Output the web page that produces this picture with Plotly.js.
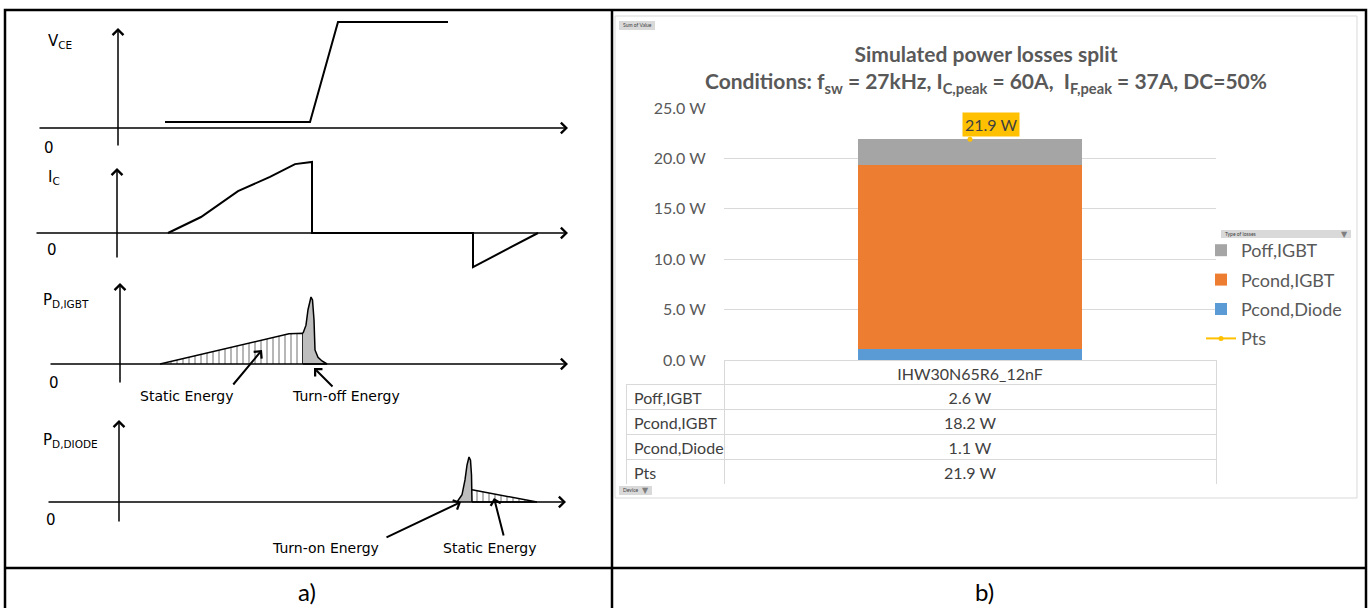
<!DOCTYPE html>
<html>
<head>
<meta charset="utf-8">
<script src="https://cdn.plot.ly/plotly-3.0.1.min.js"></script>
<style>html,body{margin:0;padding:0;background:#fff;}#chart{width:1370px;height:608px;}</style>
</head>
<body>
<div id="chart"></div>
<script>
// ---------- DATA: panel a) schematic waveforms (time in arbitrary units, amplitudes normalised) ----------
const vceT = [4.7, 19.2, 22.0, 33.0];
const vceV = [0.057, 0.057, 1.0, 1.0];

const icT = [5.0, 8.3, 12.0, 15.2, 17.7, 19.4, 19.4, 35.5, 35.5, 42.0];
const icV = [0, 0.225, 0.59, 0.79, 0.97, 1.0, 0, 0, -0.48, 0];

const igbtStaticT = [4.2, 7.7, 11.6, 14.8, 17.1, 18.5, 18.5];
const igbtStaticP = [0, 0.12, 0.25, 0.37, 0.45, 0.46, 0];
const igbtOffT = [18.5, 18.8, 19.0, 19.2, 19.3, 19.45, 19.6, 19.7, 20.0, 20.4, 20.9, 18.5];
const igbtOffP = [0.46, 0.58, 0.81, 0.97, 1.0, 0.955, 0.66, 0.21, 0.10, 0.045, 0, 0];

const diodeOnT = [33.9, 34.4, 34.7, 34.9, 35.1, 35.25, 35.35, 35.4, 35.4];
const diodeOnP = [0, 0.16, 0.49, 0.82, 1.0, 0.93, 0.6, 0.27, 0];
const diodeStaticT = [35.4, 41.9, 35.4];
const diodeStaticP = [0.27, 0, 0];

const waveLabels = ['V<sub>CE</sub>', 'I<sub>C</sub>', 'P<sub>D,IGBT</sub>', 'P<sub>D,DIODE</sub>'];

// ---------- DATA: panel b) power loss split ----------
const devices = ['IHW30N65R6_12nF'];
const lossNames = ['Poff,IGBT', 'Pcond,IGBT', 'Pcond,Diode', 'Pts'];
const poffIGBT = [2.6];
const pcondIGBT = [18.2];
const pcondDiode = [1.1];
const ptsTotal = [21.9];
const yTicks = [0, 5, 10, 15, 20, 25];

// ---------- layout helpers ----------
const W = 1370, H = 608;
const X = px => px / W;
const Y = py => 1 - py / H;
const T0 = 118, TS = 10;            // pixel of t=0 and pixels per time unit
const tOf = px => (px - T0) / TS;

// panel geometry (pixels)
const panels = [
  {zero:128, scale:106, xs:38, xe:568, yx:118, yt:28,  yb:147, dTop:15,  dBot:155, lab:[46,42],  zl:[42,148]},
  {zero:233, scale:71,  xs:35, xe:568, yx:117, yt:168, yb:259, dTop:158, dBot:275, lab:[46,177], zl:[45,250]},
  {zero:364, scale:67,  xs:49, xe:568, yx:120, yt:283, yb:384, dTop:278, dBot:392, lab:[41,300], zl:[47,383]},
  {zero:502, scale:45,  xs:47, xe:566, yx:119, yt:420, yb:523, dTop:412, dBot:530, lab:[41,440], zl:[44,520]}
];

const layout = {
  width: W, height: H,
  margin: {l:0, r:0, t:0, b:0},
  paper_bgcolor: '#fff', plot_bgcolor: 'rgba(0,0,0,0)',
  showlegend: true,
  barmode: 'stack',
  bargap: 0.545,
  font: {family: 'Lato, "Open Sans", sans-serif', color: '#595959'},
  title: {
    text: '<b>Simulated power losses split</b><br><b>Conditions: f<sub>sw</sub> = 27kHz, I<sub>C,peak</sub> = 60A, &nbsp;I<sub>F,peak</sub> = 37A, DC=50%</b>',
    x: X(986), xanchor: 'center', xref: 'paper',
    y: Y(62), yanchor: 'middle', yref: 'paper',
    font: {family: 'Lato, sans-serif', size: 21, color: '#595959'}
  },
  annotations: [],
  shapes: [],
  legend: {
    x: X(1201), y: Y(232), xanchor: 'left', yanchor: 'top',
    font: {family: 'Lato, sans-serif', size: 18, color: '#595959'},
    bgcolor: 'rgba(0,0,0,0)', traceorder: 'grouped', tracegroupgap: 3, itemwidth: 30
  }
};

const traces = [];
const ids = ['', '2', '3', '4'];

panels.forEach((p, i) => {
  const s = ids[i];
  const yr = [(p.zero - p.dBot) / p.scale, (p.zero - p.dTop) / p.scale];
  const axCommon = {showgrid:false, zeroline:false, showticklabels:false, showline:false, ticks:'', fixedrange:true};
  layout['xaxis' + s] = Object.assign({domain:[X(30), X(580)], range:[tOf(30), tOf(580)], anchor:'y' + s}, axCommon);
  layout['yaxis' + s] = Object.assign({domain:[Y(p.dBot), Y(p.dTop)], range:yr, anchor:'x' + s}, axCommon);
  const xr = 'x' + s, yrf = 'y' + s;
  // horizontal axis arrow
  layout.annotations.push({xref:xr, yref:yrf, axref:xr, ayref:yrf, x:tOf(p.xe), y:0, ax:tOf(p.xs), ay:0,
    text:'', showarrow:true, arrowhead:4, arrowsize:1.4, arrowwidth:1.5, arrowcolor:'#000', standoff:0});
  // vertical axis arrow
  layout.annotations.push({xref:xr, yref:yrf, axref:xr, ayref:yrf, x:tOf(p.yx), y:(p.zero - p.yt) / p.scale,
    ax:tOf(p.yx), ay:(p.zero - p.yb) / p.scale,
    text:'', showarrow:true, arrowhead:4, arrowsize:1.4, arrowwidth:1.5, arrowcolor:'#000', standoff:0});
  // labels
  layout.annotations.push({xref:'paper', yref:'paper', x:X(p.lab[0]), y:Y(p.lab[1]), xanchor:'left', yanchor:'middle',
    text: waveLabels[i], showarrow:false, font:{family:'DejaVu Sans, sans-serif', size:15, color:'#000'}});
  layout.annotations.push({xref:'paper', yref:'paper', x:X(p.zl[0]), y:Y(p.zl[1]), xanchor:'left', yanchor:'middle',
    text: '0', showarrow:false, font:{family:'DejaVu Sans, sans-serif', size:15, color:'#000'}});
});

const lineBlack = {color:'#000', width:2};
const hatch = {shape:'|', size:6, solidity:0.12, fgcolor:'#333', bgcolor:'#fff'};
traces.push({type:'scatter', mode:'lines', x:vceT, y:vceV, xaxis:'x', yaxis:'y', line:lineBlack, showlegend:false, hoverinfo:'skip'});
traces.push({type:'scatter', mode:'lines', x:icT, y:icV, xaxis:'x2', yaxis:'y2', line:lineBlack, showlegend:false, hoverinfo:'skip'});
traces.push({type:'scatter', mode:'lines', x:igbtStaticT, y:igbtStaticP, xaxis:'x3', yaxis:'y3', fill:'toself',
  fillpattern:hatch, line:{color:'#000', width:1.5}, showlegend:false, hoverinfo:'skip'});
traces.push({type:'scatter', mode:'lines', x:igbtOffT, y:igbtOffP, xaxis:'x3', yaxis:'y3', fill:'toself', fillcolor:'#bdbdbd',
  line:{color:'#000', width:1.5}, showlegend:false, hoverinfo:'skip'});
traces.push({type:'scatter', mode:'lines', x:diodeStaticT, y:diodeStaticP, xaxis:'x4', yaxis:'y4', fill:'toself',
  fillpattern:hatch, line:{color:'#000', width:1.5}, showlegend:false, hoverinfo:'skip'});
traces.push({type:'scatter', mode:'lines', x:diodeOnT, y:diodeOnP, xaxis:'x4', yaxis:'y4', fill:'toself', fillcolor:'#bdbdbd',
  line:{color:'#000', width:1.5}, showlegend:false, hoverinfo:'skip'});

// energy labels and pointer arrows (pixel geometry)
const eLab = [
  {t:'Static Energy', x:187, y:396, head:[262,350], tail:[232,386]},
  {t:'Turn-off Energy', x:346, y:396, head:[314,368], tail:[334,388]},
  {t:'Turn-on Energy', x:325, y:548, head:[461,502], tail:[385,538]},
  {t:'Static Energy', x:490, y:548, head:[494,498], tail:[504,537]}
];
eLab.forEach(e => {
  layout.annotations.push({xref:'paper', yref:'paper', x:X(e.x), y:Y(e.y), xanchor:'center', yanchor:'middle',
    text:e.t, showarrow:false, font:{family:'DejaVu Sans, sans-serif', size:14, color:'#000'}});
  layout.annotations.push({xref:'paper', yref:'paper', x:X(e.head[0]), y:Y(e.head[1]),
    ax:e.tail[0] - e.head[0], ay:e.tail[1] - e.head[1], text:'', showarrow:true,
    arrowhead:4, arrowsize:1.0, arrowwidth:2, arrowcolor:'#000', standoff:0});
});

// ---------- panel b) bar chart ----------
layout.xaxis5 = {domain:[X(724), X(1216)], anchor:'y5', type:'category', showticklabels:false, showgrid:false,
  zeroline:false, showline:false, fixedrange:true};
layout.yaxis5 = {domain:[Y(360), Y(108)], anchor:'x5', range:[0, 25], tickmode:'array', tickvals:yTicks,
  ticktext:yTicks.map(v => v.toFixed(1) + ' W'),
  showgrid:true, gridcolor:'#d9d9d9', gridwidth:1, zeroline:false, showline:false,
  ticks:'outside', ticklen:14, tickcolor:'rgba(0,0,0,0)',
  tickfont:{family:'Lato, sans-serif', size:16, color:'#595959'}, fixedrange:true};

traces.push({type:'bar', name:lossNames[2], legendgroup:'c', x:devices, y:pcondDiode, xaxis:'x5', yaxis:'y5', marker:{color:'#5B9BD5'}, legendrank:3});
traces.push({type:'bar', name:lossNames[1], legendgroup:'b', x:devices, y:pcondIGBT, xaxis:'x5', yaxis:'y5', marker:{color:'#ED7D31'}, legendrank:2});
traces.push({type:'bar', name:lossNames[0], legendgroup:'a', x:devices, y:poffIGBT, xaxis:'x5', yaxis:'y5', marker:{color:'#A5A5A5'}, legendrank:1});
traces.push({type:'scatter', mode:'lines+markers', name:lossNames[3], legendgroup:'d', x:devices, y:ptsTotal, xaxis:'x5', yaxis:'y5',
  line:{color:'#FFC000', width:2}, marker:{color:'#FFC000', size:5}, legendrank:4});

layout.annotations.push({xref:'x5', yref:'y5', x:devices[0], y:ptsTotal[0], text:ptsTotal[0].toFixed(1) + ' W',
  showarrow:false, xshift:21, yshift:15, bgcolor:'#FFC000', borderpad:2,
  font:{family:'Lato, sans-serif', size:16, color:'#404040'}});

// data table
const tableVals = [poffIGBT[0], pcondIGBT[0], pcondDiode[0], ptsTotal[0]].map(v => v.toFixed(1) + ' W');
traces.push({type:'table', domain:{x:[X(626), X(1216)], y:[Y(484), Y(360)]}, columnwidth:[98, 492],
  header:{values:['', devices[0]], height:24, align:['left','center'], fill:{color:['rgba(0,0,0,0)', '#fff']},
    line:{color:['rgba(0,0,0,0)', '#d9d9d9'], width:1}, font:{family:'Lato, sans-serif', size:16, color:'#404040'}},
  cells:{values:[lossNames, tableVals], height:25, align:['left','center'], fill:{color:'#fff'},
    line:{color:'#d9d9d9', width:1}, font:{family:'Lato, sans-serif', size:16, color:'#404040'}}
});

// ---------- frames, captions, pivot buttons ----------
const S = layout.shapes;
const bl = {color:'#000', width:2.5};
S.push({type:'rect', xref:'paper', yref:'paper', x0:X(5), x1:X(1366), y0:Y(612), y1:Y(10), line:bl});
S.push({type:'line', xref:'paper', yref:'paper', x0:X(612), x1:X(612), y0:Y(612), y1:Y(10), line:bl});
S.push({type:'line', xref:'paper', yref:'paper', x0:X(5), x1:X(1366), y0:Y(568), y1:Y(568), line:bl});
S.push({type:'rect', xref:'paper', yref:'paper', x0:X(615), x1:X(1357), y0:Y(498), y1:Y(16), line:{color:'#d9d9d9', width:1}});
// pivot buttons
const btns = [
  {x0:619, x1:655, y0:21, y1:30, t:'Sum of Value', f:false},
  {x0:1221, x1:1351, y0:230, y1:238, t:'Type of losses', f:true},
  {x0:619, x1:652, y0:486, y1:495, t:'Device', f:true}
];
btns.forEach(b => {
  S.push({type:'rect', xref:'paper', yref:'paper', x0:X(b.x0), x1:X(b.x1), y0:Y(b.y1), y1:Y(b.y0),
    fillcolor:'#d9d9d9', line:{width:0}});
  layout.annotations.push({xref:'paper', yref:'paper', x:X(b.x0 + 2), y:Y((b.y0 + b.y1) / 2), xanchor:'left', yanchor:'middle',
    text:b.t, showarrow:false, font:{family:'Lato, sans-serif', size:5, color:'#404040'}});
  if (b.f) layout.annotations.push({xref:'paper', yref:'paper', x:X(b.x1 - 1), y:Y((b.y0 + b.y1) / 2), xanchor:'right', yanchor:'middle',
    text:'▼', showarrow:false, font:{family:'DejaVu Sans, sans-serif', size:8, color:'#7f7f7f'}});
});
// captions
layout.annotations.push({xref:'paper', yref:'paper', x:X(307), y:Y(591), xanchor:'center', yanchor:'middle',
  text:'a)', showarrow:false, font:{family:'Lato, sans-serif', size:24, color:'#000'}});
layout.annotations.push({xref:'paper', yref:'paper', x:X(985), y:Y(591), xanchor:'center', yanchor:'middle',
  text:'b)', showarrow:false, font:{family:'Lato, sans-serif', size:24, color:'#000'}});

Plotly.newPlot('chart', traces, layout, {displayModeBar:false, staticPlot:true});
</script>
</body>
</html>
